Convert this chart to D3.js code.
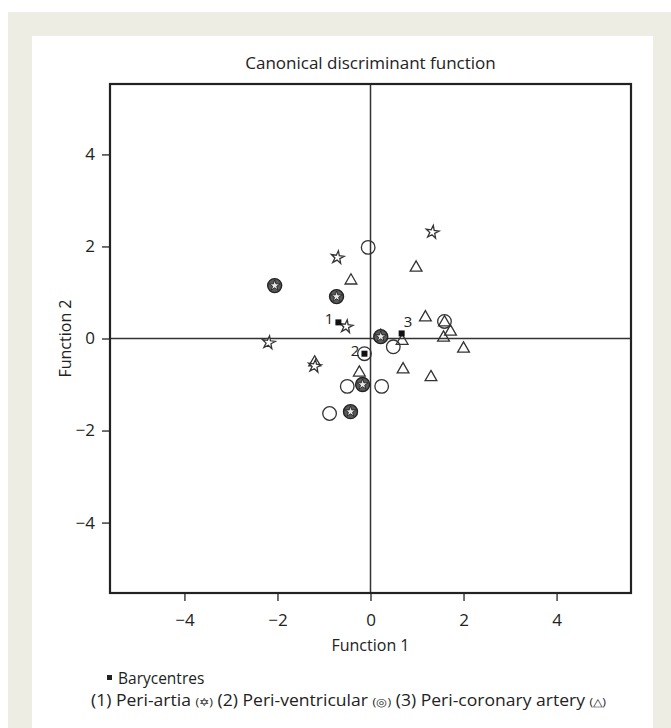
<!DOCTYPE html>
<html>
<head>
<meta charset="utf-8">
<script src="https://cdn.jsdelivr.net/npm/d3@7"></script>
<style>
  body { margin: 0; background: #fff; }
  text { font-family: "Open Sans", "Noto Sans", sans-serif; fill: #222; }
</style>
</head>
<body>
<div id="chart"></div>
<script>
////////////////////////////////////////////// DATOS

// grupo 1: peri-artia (estrellas)
var periArtia = [
  [1.33, 2.31], [-0.71, 1.76], [-0.52, 0.26], [-2.19, -0.09], [-1.2, -0.6]
];
// grupo 2: peri-ventricular (circulos)
var periVentricular = [
  [-0.05, 1.98], [0.49, -0.18], [-0.5, -1.04], [0.24, -1.04], [-0.88, -1.63],
  [1.59, 0.37], [-0.13, -0.33]
];
// grupo 3: peri-coronary artery (triangulos)
var periCoronary = [
  [-0.42, 1.28], [0.98, 1.56], [1.18, 0.48], [1.59, 0.37], [1.72, 0.17],
  [1.57, 0.04], [0.68, -0.03], [2.0, -0.2], [1.3, -0.82], [0.7, -0.65],
  [-1.2, -0.5], [-0.24, -0.72], [0.22, 0.08]
];
// puntos donde coinciden estrella y circulo
var solapados = [
  [-2.06, 1.15], [-0.73, 0.91], [0.22, 0.04], [-0.17, -1.0], [-0.43, -1.59]
];
// baricentros
var baricentros = [
  { id: "1", x: -0.69, y: 0.35 },
  { id: "2", x: -0.13, y: -0.33 },
  { id: "3", x: 0.67, y: 0.11 }
];

var ticks = [-4, -2, 0, 2, 4];
var titulo = "Canonical discriminant function";
var ejeX = "Function 1";
var ejeY = "Function 2";

////////////////////////////////////////////// LIENZO

var W = 671, H = 728;
var svg = d3.select("#chart").append("svg").attr("width", W).attr("height", H);

// marco beige y panel blanco
svg.append("rect").attr("x", 8).attr("y", 12).attr("width", W - 8).attr("height", H - 12).attr("fill", "#edede3");
svg.append("rect").attr("x", 32).attr("y", 36).attr("width", 621).attr("height", H - 36).attr("fill", "#fff");

var box = { left: 110, right: 631, top: 84, bottom: 593 };

var x = d3.scaleLinear().domain([-5.6, 5.6]).range([box.left, box.right]);
var y = d3.scaleLinear().domain([-5.53, 5.53]).range([box.bottom, box.top]);

////////////////////////////////////////////// EJES

var gx = svg.append("g")
  .attr("transform", "translate(0," + box.bottom + ")")
  .call(d3.axisBottom(x).tickValues(ticks).tickSize(8).tickSizeOuter(0).tickPadding(13));
var gy = svg.append("g")
  .attr("transform", "translate(" + box.left + ",0)")
  .call(d3.axisLeft(y).tickValues(ticks).tickSize(8).tickSizeOuter(0).tickPadding(7));

[gx, gy].forEach(function (g) {
  g.select(".domain").remove();
  g.selectAll(".tick line").attr("stroke", "#333").attr("stroke-width", 1.4);
  g.selectAll(".tick text").style("font-size", "17px").attr("fill", "#222")
    .style("font-family", '"Open Sans", sans-serif');
});

// lineas de cero
svg.append("line").attr("x1", x(0)).attr("x2", x(0)).attr("y1", box.top).attr("y2", box.bottom)
  .attr("stroke", "#333").attr("stroke-width", 1.5);
svg.append("line").attr("x1", box.left).attr("x2", box.right).attr("y1", y(0)).attr("y2", y(0))
  .attr("stroke", "#333").attr("stroke-width", 1.5);

// caja
svg.append("rect").attr("x", box.left).attr("y", box.top)
  .attr("width", box.right - box.left).attr("height", box.bottom - box.top)
  .attr("fill", "none").attr("stroke", "#222").attr("stroke-width", 2.2);

svg.append("text").attr("x", x(0)).attr("y", 69).attr("text-anchor", "middle")
  .style("font-size", "17px").text(titulo);
svg.append("text").attr("x", x(0)).attr("y", 651).attr("text-anchor", "middle")
  .style("font-size", "16px").text(ejeX);
svg.append("text").attr("transform", "rotate(-90)").attr("x", -y(0)).attr("y", 71)
  .attr("text-anchor", "middle").style("font-size", "16px").text(ejeY);

////////////////////////////////////////////// MARCADORES

var star = d3.symbol().type(d3.symbolStar).size(52);
var tri = d3.symbol().type(d3.symbolTriangle).size(60);
var starChico = d3.symbol().type(d3.symbolStar).size(36);

svg.append("g").selectAll("path").data(periCoronary).join("path")
  .attr("d", tri)
  .attr("transform", d => "translate(" + x(d[0]) + "," + (y(d[1]) + 1) + ")")
  .attr("fill", "none").attr("stroke", "#333").attr("stroke-width", 1.3);

svg.append("g").selectAll("circle").data(periVentricular).join("circle")
  .attr("cx", d => x(d[0])).attr("cy", d => y(d[1])).attr("r", 6.8)
  .attr("fill", "none").attr("stroke", "#333").attr("stroke-width", 1.3);

svg.append("g").selectAll("path").data(periArtia).join("path")
  .attr("d", star)
  .attr("transform", d => "translate(" + x(d[0]) + "," + y(d[1]) + ") rotate(8)")
  .attr("fill", "#fff").attr("stroke", "#333").attr("stroke-width", 1.3);

var sol = svg.append("g").selectAll("g").data(solapados).join("g")
  .attr("transform", d => "translate(" + x(d[0]) + "," + y(d[1]) + ")");
sol.append("circle").attr("r", 7).attr("fill", "#5a5a5a").attr("stroke", "#222").attr("stroke-width", 1.4);
sol.append("path").attr("d", starChico).attr("fill", "#e8e8e8").attr("stroke", "#222").attr("stroke-width", 0.9);

// baricentros
var bar = svg.append("g").selectAll("g").data(baricentros).join("g");
bar.append("rect")
  .attr("x", d => x(d.x) - 3).attr("y", d => y(d.y) - 3)
  .attr("width", 6).attr("height", 6).attr("fill", "#111");
bar.append("text")
  .attr("x", d => x(d.x) - 5).attr("y", d => y(d.y) + 2)
  .attr("text-anchor", "end").style("font-size", "15px")
  .text(d => d.id);
// el 3 va arriba del cuadrito
bar.filter(d => d.id == "3").select("text")
  .attr("x", d => x(d.x) + 2).attr("y", d => y(d.y) - 6).attr("text-anchor", "start");

////////////////////////////////////////////// LEYENDA

svg.append("rect").attr("x", 107).attr("y", 675).attr("width", 5).attr("height", 5).attr("fill", "#222");
svg.append("text").attr("x", 118).attr("y", 684).style("font-size", "15.5px").text("Barycentres");

var ley = svg.append("text").attr("x", 91).attr("y", 706).style("font-size", "15.5px");
var piezas = [
  ["(1) Peri-artia ", 15.5], ["(\u2721)", 11], [" (2) Peri-ventricular  ", 15.5], ["(\u25CE)", 11],
  [" (3) Peri-coronary artery  ", 15.5], ["(\u25B3)", 11]
];
piezas.forEach(function (p) {
  ley.append("tspan").style("font-size", p[1] + "px").text(p[0]);
});
// ajustar al ancho del original
ley.attr("textLength", 515).attr("lengthAdjust", "spacingAndGlyphs");
</script>
</body>
</html>
